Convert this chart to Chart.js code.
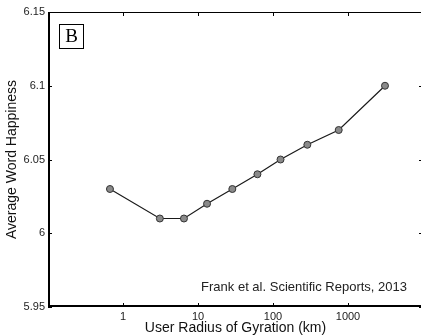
<!DOCTYPE html>
<html>
<head>
<meta charset="utf-8">
<script src="https://cdn.jsdelivr.net/npm/chart.js@4/dist/chart.umd.min.js"></script>
<style>
  html, body { margin: 0; padding: 0; background: #fff; overflow: hidden; }
  #chart { display: block; }
</style>
</head>
<body>
<canvas id="chart" width="430" height="336"></canvas>
<script>
// radius of gyration bins (km) and mean happiness per bin
var radiusKm = [0.67, 3.1, 6.5, 13.2, 28.7, 62, 126, 287, 752, 3114];
var happiness = [6.03, 6.01, 6.01, 6.02, 6.03, 6.04, 6.05, 6.06, 6.07, 6.10];

var xTicks = [1, 10, 100, 1000];
var yTicks = [5.95, 6, 6.05, 6.1, 6.15];

var panelLabel = "B";
var creditText = "Frank et al. Scientific Reports, 2013";

var points = radiusKm.map(function (r, i) {
  return { x: r, y: happiness[i] };
});

var TICK_LEN = 4;

// MATLAB-like box with inward ticks, panel letter and credit line
var framePlugin = {
  id: "frame",
  afterDraw: function (chart) {
    var ctx = chart.ctx;
    var a = chart.chartArea;
    var xs = chart.scales.x;
    var ys = chart.scales.y;

    ctx.save();
    ctx.strokeStyle = "#000";

    ctx.lineWidth = 1;
    ctx.beginPath();
    ctx.moveTo(a.left, a.top + 0.5);
    ctx.lineTo(a.right, a.top + 0.5);
    ctx.moveTo(a.right - 0.5, a.top);
    ctx.lineTo(a.right - 0.5, a.bottom);
    ctx.stroke();

    ctx.lineWidth = 2;
    ctx.beginPath();
    ctx.moveTo(a.left + 1, a.top);
    ctx.lineTo(a.left + 1, a.bottom);
    ctx.moveTo(a.left, a.bottom - 1);
    ctx.lineTo(a.right, a.bottom - 1);
    ctx.stroke();

    ctx.lineWidth = 1;
    ctx.beginPath();
    xTicks.forEach(function (v) {
      var px = Math.round(xs.getPixelForValue(v)) + 0.5;
      ctx.moveTo(px, a.bottom);
      ctx.lineTo(px, a.bottom - TICK_LEN);
      ctx.moveTo(px, a.top);
      ctx.lineTo(px, a.top + TICK_LEN);
    });
    yTicks.forEach(function (v) {
      var py = Math.round(ys.getPixelForValue(v)) + 0.5;
      ctx.moveTo(a.left, py);
      ctx.lineTo(a.left + TICK_LEN, py);
      ctx.moveTo(a.right, py);
      ctx.lineTo(a.right - TICK_LEN, py);
    });
    ctx.stroke();

    // panel letter
    ctx.lineWidth = 1;
    ctx.strokeRect(59.5, 24.5, 24, 24);
    ctx.fillStyle = "#000";
    ctx.font = "19px 'Liberation Serif', 'DejaVu Serif', serif";
    ctx.textAlign = "center";
    ctx.textBaseline = "middle";
    ctx.fillText(panelLabel, 71.5, 37);

    // credit
    ctx.fillStyle = "#222";
    ctx.font = "13px 'Liberation Sans', Arial, sans-serif";
    ctx.textAlign = "right";
    ctx.fillText(creditText, 407, 287);
    ctx.restore();
  }
};

var tickFont = { family: "'Liberation Sans', Arial, sans-serif", size: 11 };
var titleFont = { family: "'Liberation Sans', Arial, sans-serif", size: 14 };

new Chart(document.getElementById("chart"), {
  type: "line",
  data: {
    datasets: [
      {
        data: points,
        borderColor: "#1a1a1a",
        borderWidth: 1.2,
        tension: 0,
        fill: false,
        pointRadius: 3.5,
        pointBackgroundColor: "#8a8a8a",
        pointBorderColor: "#333",
        pointBorderWidth: 1,
      },
    ],
  },
  options: {
    responsive: false,
    animation: false,
    layout: { padding: { top: 12, right: 7, bottom: 0, left: 0 } },
    plugins: {
      legend: { display: false },
      tooltip: { enabled: false },
    },
    scales: {
      x: {
        type: "logarithmic",
        min: 0.1,
        max: 10000,
        afterBuildTicks: function (scale) {
          scale.ticks = xTicks.map(function (v) { return { value: v }; });
        },
        afterFit: function (scale) { scale.height = 29; },
        grid: { display: false, drawTicks: false },
        border: { display: false },
        ticks: {
          color: "#222",
          font: tickFont,
          padding: 3,
          maxRotation: 0,
          autoSkip: false,
          callback: function (v) { return String(v); },
        },
        title: {
          display: true,
          text: "User Radius of Gyration (km)",
          color: "#111",
          font: titleFont,
          padding: { top: 0, bottom: -1 },
        },
      },
      y: {
        min: 5.95,
        max: 6.15,
        afterBuildTicks: function (scale) {
          scale.ticks = yTicks.map(function (v) { return { value: v }; });
        },
        afterFit: function (scale) { scale.width = 48; },
        grid: { display: false, drawTicks: false },
        border: { display: false },
        ticks: {
          color: "#222",
          font: tickFont,
          padding: 3,
          callback: function (v) { return String(+v.toFixed(2)); },
        },
        title: {
          display: true,
          text: "Average Word Happiness",
          color: "#111",
          font: titleFont,
          padding: { top: 4, bottom: 0 },
        },
      },
    },
  },
  plugins: [framePlugin],
});
</script>
</body>
</html>
